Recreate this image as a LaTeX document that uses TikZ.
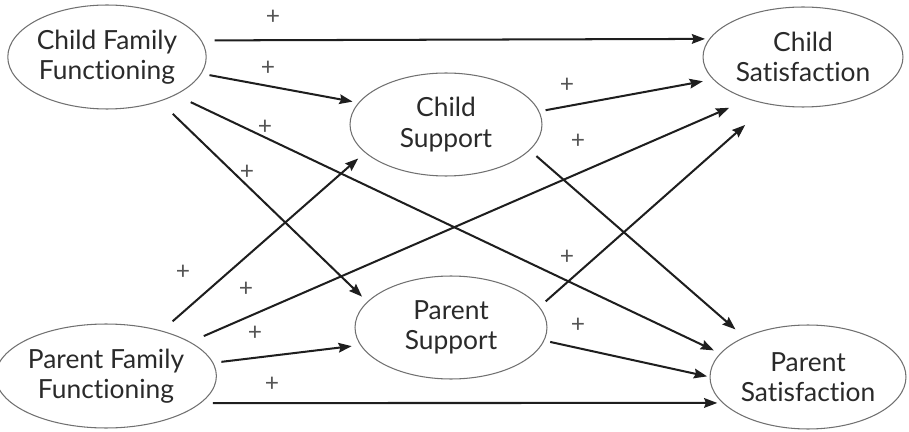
\documentclass[tikz,border=0pt]{standalone}
\usepackage{fontspec}
\setmainfont{Lato}[Ligatures={NoCommon}]
\usetikzlibrary{arrows.meta,shapes.geometric}
\definecolor{txt}{HTML}{2A2A2A}
\definecolor{edge}{HTML}{707070}
\definecolor{ln}{HTML}{1E1E1E}
\definecolor{plus}{HTML}{555555}
\begin{document}
\begin{tikzpicture}[x=0.02cm,y=-0.02cm,
  var/.style={ellipse,draw=edge,line width=0.6pt,inner sep=0pt,outer sep=0pt,
    align=center,text=txt,font=\fontsize{15}{17.2}\selectfont},
  path/.style={draw=ln,line width=1.15pt,-{Stealth[length=7.5pt,width=5.5pt,inset=1pt]}},
  sign/.style={text=plus,font=\fontsize{14}{14}\selectfont,inner sep=0pt}]
\useasboundingbox (0,0) rectangle (909,432);
\node[var,minimum width=3.88cm,minimum height=2.08cm] (cff) at (107,57) {Child Family\\Functioning};
\node[var,minimum width=3.84cm,minimum height=2.06cm] (cs) at (446,124.5) {Child\\Support};
\node[var,minimum width=4.0cm,minimum height=2.0cm] (csat) at (803,57) {Child\\Satisfaction};
\node[var,minimum width=3.84cm,minimum height=2.08cm] (pff) at (106,376) {Parent Family\\Functioning};
\node[var,minimum width=3.84cm,minimum height=2.06cm] (ps) at (451,327.5) {Parent\\Support};
\node[var,minimum width=3.92cm,minimum height=2.08cm] (psat) at (808,377) {Parent\\Satisfaction};

\draw[path,shorten <=7.8pt,shorten >=2.7pt] (cff.10.8) -- (csat.169);
\draw[path,shorten <=4.9pt,shorten >=3.7pt] (cff.-10.8) -- (cs.166.5);
\draw[path,shorten <=9.8pt,shorten >=4.2pt] (cff.-29.3) -- (psat.165.3);
\draw[path,shorten <=10.5pt,shorten >=4.4pt] (cff.-40.3) -- (ps.163.9);
\draw[path,shorten <=8.4pt,shorten >=5.3pt] (pff.39.6) -- (cs.199.5);
\draw[path,shorten <=8.7pt,shorten >=12.4pt] (pff.22.1) -- (csat.218.7);
\draw[path,shorten <=4.9pt,shorten >=5.2pt] (pff.7.3) -- (ps.191.1);
\draw[path,shorten <=7.2pt,shorten >=3.3pt] (pff.-16.8) -- (psat.197.3);
\draw[path,shorten <=3.9pt,shorten >=6.2pt] (cs.8.9) -- (csat.194);
\draw[path,shorten <=5.3pt,shorten >=6.9pt] (cs.-17.2) -- (psat.148.1);
\draw[path,shorten <=5.0pt,shorten >=18pt] (ps.13.8) -- (csat.234);
\draw[path,shorten <=3.7pt,shorten >=1.7pt] (ps.-8.3) -- (psat.180);

\node[sign] (s1) at (273,17) {+};
\node[sign] (s2) at (268,68) {+};
\node[sign] (s3) at (265,127) {+};
\node[sign] (s4) at (247,172) {+};
\node[sign] (s5) at (183,272) {+};
\node[sign] (s6) at (246,289) {+};
\node[sign] (s7) at (255,333) {+};
\node[sign] (s8) at (272,384) {+};
\node[sign] (s9) at (567,85) {+};
\node[sign] (s10) at (578,141) {+};
\node[sign] (s11) at (567,257) {+};
\node[sign] (s12) at (578,325) {+};
\end{tikzpicture}
\end{document}
